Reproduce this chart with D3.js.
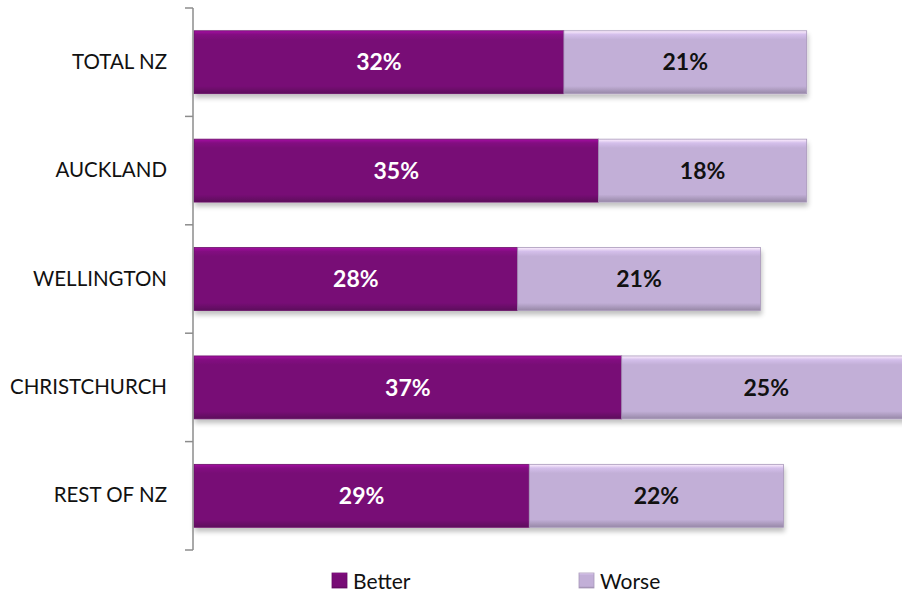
<!DOCTYPE html>
<html>
<head>
<meta charset="utf-8">
<script src="https://cdn.jsdelivr.net/npm/d3@7"></script>
<style>
  html, body { margin: 0; padding: 0; background: #fff; }
  svg { display: block; font-family: "Lato", "Open Sans", sans-serif; }
</style>
</head>
<body>
<svg id="chart" width="902" height="593"></svg>
<script>
// Regions and the share of respondents in each answer group
const categories = ["TOTAL NZ", "AUCKLAND", "WELLINGTON", "CHRISTCHURCH", "REST OF NZ"];
const better = [32, 35, 28, 37, 29];
const worse = [21, 18, 21, 25, 22];
const seriesNames = ["Better", "Worse"];
const seriesColors = ["#780b76", "#c2afd7"];
const labelColors = ["#ffffff", "#111111"];

const svg = d3.select("#chart");

const x = d3.scaleLinear().domain([0, 100]).range([194, 194 + 1156]);
const y = d3.scaleBand().domain(categories).range([8, 550]).paddingInner(0.42).paddingOuter(0.21);

const rows = categories.map((c, i) => ({ cat: c, vals: [better[i], worse[i]] }));

// Gradients giving the bars a soft bevel
const defs = svg.append("defs");
seriesColors.forEach((col, k) => {
  const g = defs.append("linearGradient").attr("id", "grad" + k)
    .attr("x1", 0).attr("y1", 0).attr("x2", 0).attr("y2", 1);
  const c = d3.color(col);
  g.append("stop").attr("offset", "0%").attr("stop-color", c.brighter(0.9));
  g.append("stop").attr("offset", "6%").attr("stop-color", c.brighter(0.25));
  g.append("stop").attr("offset", "14%").attr("stop-color", col);
  g.append("stop").attr("offset", "88%").attr("stop-color", col);
  g.append("stop").attr("offset", "100%").attr("stop-color", c.darker(0.7));
});
const shadow = defs.append("filter").attr("id", "shadow")
  .attr("x", "-5%").attr("y", "-20%").attr("width", "110%").attr("height", "160%");
shadow.append("feGaussianBlur").attr("in", "SourceAlpha").attr("stdDeviation", 2.5);
shadow.append("feOffset").attr("dx", 1).attr("dy", 4).attr("result", "b");
shadow.append("feComponentTransfer").append("feFuncA").attr("type", "linear").attr("slope", 0.25);
const merge = shadow.append("feMerge");
merge.append("feMergeNode");
merge.append("feMergeNode").attr("in", "SourceGraphic");

// Stacked bars
const rowG = svg.selectAll("g.row").data(rows).join("g").attr("class", "row")
  .attr("transform", d => `translate(0,${y(d.cat)})`);

rowG.each(function(d) {
  const g = d3.select(this);
  let acc = 0;
  const segs = d.vals.map((v, k) => { const s = { k, v, x0: acc, x1: acc + v }; acc += v; return s; });
  g.append("g").attr("filter", "url(#shadow)")
    .selectAll("rect").data(segs).join("rect")
    .attr("x", s => x(s.x0))
    .attr("width", s => x(s.x1) - x(s.x0))
    .attr("y", 0)
    .attr("height", y.bandwidth())
    .attr("fill", s => `url(#grad${s.k})`)
    .attr("stroke", s => d3.color(seriesColors[s.k]).darker(0.4))
    .attr("stroke-width", 0.8);
  g.selectAll("text.val").data(segs).join("text").attr("class", "val")
    .attr("x", s => (x(s.x0) + x(s.x1)) / 2)
    .attr("y", y.bandwidth() / 2)
    .attr("dy", "0.36em")
    .attr("text-anchor", "middle")
    .attr("font-size", 23)
    .attr("font-weight", 700)
    .attr("fill", s => labelColors[s.k])
    .text(s => s.v + "%");
});

// Category axis
const axisG = svg.append("g").attr("transform", "translate(193,0)")
  .call(d3.axisLeft(y).tickSize(0).tickPadding(26));
axisG.select(".domain").attr("stroke", "#8c8c8c").attr("stroke-width", 1.5);
axisG.selectAll("text").attr("font-size", 20.5).attr("fill", "#111")
  .attr("font-family", "Lato, 'Open Sans', sans-serif");
// Tick marks on band boundaries
const bounds = categories.map(c => y(c) - y.step() * y.paddingInner() / 2);
bounds[0] = y.range()[0];
bounds.push(y.range()[1]);
axisG.selectAll("line.bnd").data(bounds).join("line").attr("class", "bnd")
  .attr("x1", -8).attr("x2", 0).attr("y1", d => d).attr("y2", d => d)
  .attr("stroke", "#8c8c8c").attr("stroke-width", 1.5);
axisG.select(".domain").attr("d", `M0,${y.range()[0]}V${y.range()[1]}`);

// Legend
const legendX = [332, 579];
const lg = svg.selectAll("g.legend").data(seriesNames).join("g").attr("class", "legend")
  .attr("transform", (d, i) => `translate(${legendX[i]},573)`);
lg.append("rect").attr("width", 15).attr("height", 15)
  .attr("fill", (d, i) => `url(#grad${i})`)
  .attr("stroke", (d, i) => d3.color(seriesColors[i]).darker(0.4)).attr("stroke-width", 0.8);
lg.append("text").attr("x", 21).attr("y", 8).attr("dy", "0.36em")
  .attr("font-size", 21).attr("fill", "#111").text(d => d);
</script>
</body>
</html>
